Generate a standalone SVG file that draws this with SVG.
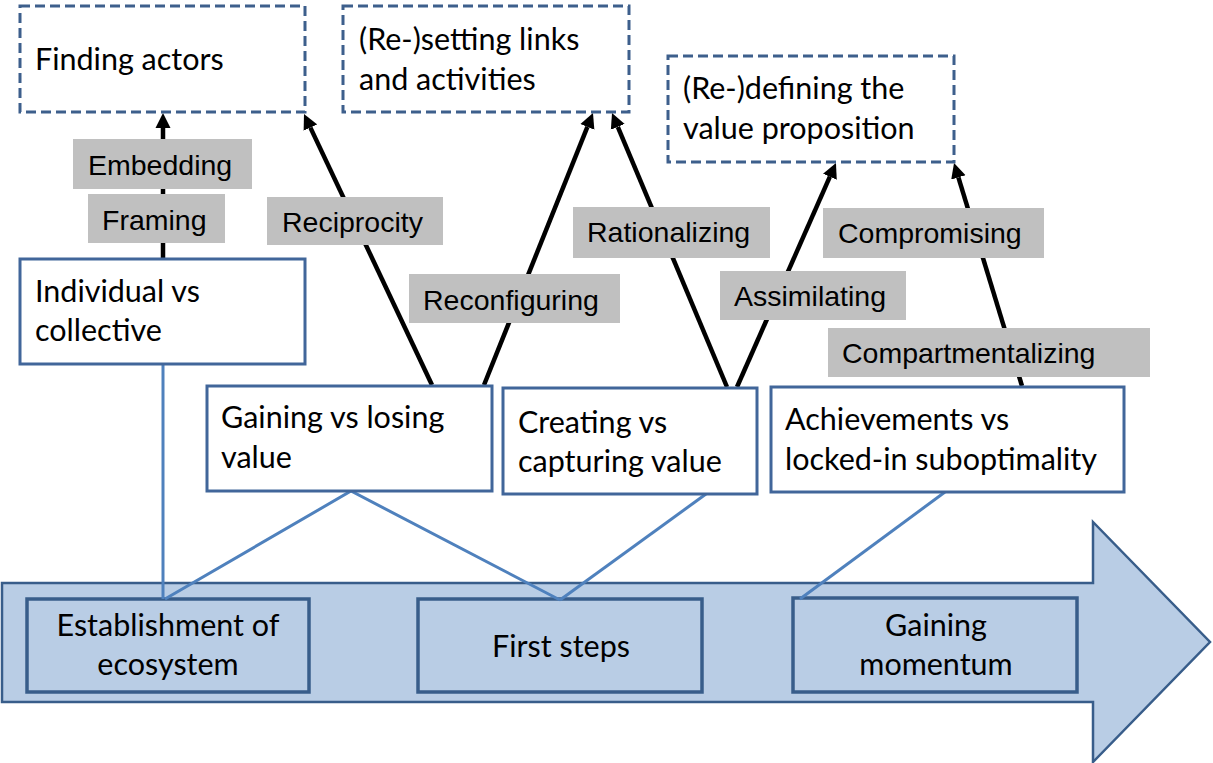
<svg xmlns="http://www.w3.org/2000/svg" width="1213" height="763" viewBox="0 0 1213 763">
<style>
.cal{font-family:Lato,"Open Sans","DejaVu Sans",sans-serif;font-size:30.5px;fill:#000}
.ar{font-family:"Liberation Sans",Arial,sans-serif;font-size:28.5px;fill:#000}
.dash{fill:#fff;stroke:#3d5f8c;stroke-width:3;stroke-dasharray:10 5}
.box{fill:#fff;stroke:#41669a;stroke-width:3}
.stage{fill:#b9cde5;stroke:#385d8a;stroke-width:3.5}
.lbl{fill:#c0c0c0}
.blk{stroke:#000;stroke-width:4.5;fill:none}
.blu{stroke:#4f81bd;stroke-width:3;fill:none}
</style>
<defs>
<marker id="ah" markerUnits="userSpaceOnUse" markerWidth="16" markerHeight="16" viewBox="0 -8 16 16" refX="0" refY="0" orient="auto">
<path d="M0,-7.5 L15,0 L0,7.5 z" fill="#000"/>
</marker>
</defs>
<rect width="1213" height="763" fill="#fff"/>

<g id="timeline">
<polygon points="2,583 1093,583 1093,522 1210,642 1093,762 1093,702 2,702" fill="#b9cde5" stroke="#385d8a" stroke-width="2.5"/>
</g>
<g id="stage-establishment">
<rect class="stage" x="27" y="599" width="282" height="93"/>
<text class="cal" x="168" y="636" text-anchor="middle">Establishment of</text>
<text class="cal" x="168" y="675" text-anchor="middle">ecosystem</text>
</g>
<g id="stage-first-steps">
<rect class="stage" x="418" y="599" width="284" height="93"/>
<text class="cal" x="561" y="657" text-anchor="middle">First steps</text>
</g>
<g id="stage-gaining-momentum">
<rect class="stage" x="793" y="598" width="284" height="94"/>
<text class="cal" x="936" y="636" text-anchor="middle">Gaining</text>
<text class="cal" x="936" y="675" text-anchor="middle">momentum</text>
</g>

<g id="connectors">
<line class="blu" x1="163" y1="365" x2="163" y2="599"/>
<polyline class="blu" points="165,599 351,491 560,600"/>
<line class="blu" x1="706" y1="494" x2="560" y2="600"/>
<line class="blu" x1="945" y1="492" x2="800" y2="599"/>
<line class="blk" x1="163" y1="258" x2="163" y2="128" marker-end="url(#ah)"/>
<line class="blk" x1="432" y1="385" x2="310.4" y2="127.6" marker-end="url(#ah)"/>
<line class="blk" x1="484" y1="385" x2="587.4" y2="126.9" marker-end="url(#ah)"/>
<line class="blk" x1="727" y1="387" x2="617.8" y2="126.8" marker-end="url(#ah)"/>
<line class="blk" x1="737" y1="387" x2="829.9" y2="176.7" marker-end="url(#ah)"/>
<line class="blk" x1="1022" y1="386" x2="958.4" y2="177.4" marker-end="url(#ah)"/>
</g>

<g id="labels">
<rect class="lbl" x="73" y="139" width="179" height="50"/>
<text class="ar" x="88" y="175">Embedding</text>
<rect class="lbl" x="88" y="194" width="137" height="49"/>
<text class="ar" x="102" y="230">Framing</text>
<rect class="lbl" x="267" y="197" width="176" height="48"/>
<text class="ar" x="282" y="232">Reciprocity</text>
<rect class="lbl" x="409" y="274" width="211" height="49"/>
<text class="ar" x="423" y="310">Reconfiguring</text>
<rect class="lbl" x="573" y="207" width="197" height="51"/>
<text class="ar" x="587" y="242">Rationalizing</text>
<rect class="lbl" x="720" y="271" width="186" height="49"/>
<text class="ar" x="734" y="306">Assimilating</text>
<rect class="lbl" x="823" y="208" width="221" height="50"/>
<text class="ar" x="838" y="243">Compromising</text>
<rect class="lbl" x="828" y="328" width="322" height="49"/>
<text class="ar" x="842" y="363">Compartmentalizing</text>
</g>

<g id="finding-actors">
<rect class="dash" x="20" y="6" width="285" height="106"/>
<text class="cal" x="35" y="70">Finding actors</text>
</g>
<g id="setting-links">
<rect class="dash" x="343" y="6" width="286" height="106"/>
<text class="cal" x="359" y="50">(Re-)setting links</text>
<text class="cal" x="359" y="90">and activities</text>
</g>
<g id="defining-value">
<rect class="dash" x="668" y="56" width="286" height="106"/>
<text class="cal" x="683" y="99">(Re-)defining the</text>
<text class="cal" x="683" y="139">value proposition</text>
</g>

<g id="individual-collective">
<rect class="box" x="20" y="259" width="285" height="105"/>
<text class="cal" x="35" y="302">Individual vs</text>
<text class="cal" x="35" y="341">collective</text>
</g>
<g id="gaining-losing">
<rect class="box" x="207" y="386" width="285" height="105"/>
<text class="cal" x="221" y="428">Gaining vs losing</text>
<text class="cal" x="221" y="468">value</text>
</g>
<g id="creating-capturing">
<rect class="box" x="503" y="388" width="254" height="106"/>
<text class="cal" x="518" y="433">Creating vs</text>
<text class="cal" x="518" y="472">capturing value</text>
</g>
<g id="achievements">
<rect class="box" x="771" y="387" width="353" height="105"/>
<text class="cal" x="785" y="430">Achievements vs</text>
<text class="cal" x="785" y="470">locked-in suboptimality</text>
</g>
</svg>
